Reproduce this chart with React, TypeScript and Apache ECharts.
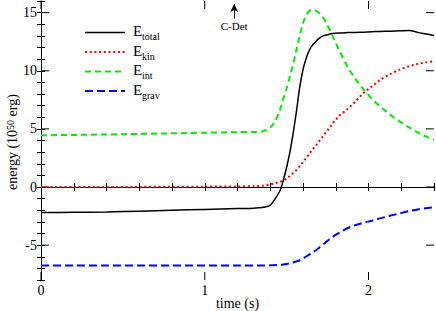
import React, { useEffect, useRef } from "react";
import * as echarts from "echarts";

const times = [0, 0.2, 0.4, 0.6, 0.8, 1.0, 1.2, 1.3, 1.35, 1.4, 1.43, 1.46, 1.48, 1.5, 1.52, 1.54, 1.56, 1.58, 1.6, 1.62, 1.64, 1.66, 1.68, 1.7, 1.72, 1.75, 1.78, 1.82, 1.87, 1.92, 1.97, 2.02, 2.07, 2.13, 2.19, 2.25, 2.3, 2.35, 2.4];

const eTotal = [-2.2, -2.18, -2.15, -2.08, -2.0, -1.93, -1.86, -1.82, -1.77, -1.55, -1.0, -0.3, 0.6, 1.7, 3.0, 4.64, 6.5, 8.6, 10.1, 11.1, 11.8, 12.25, 12.55, 12.8, 12.98, 13.1, 13.2, 13.25, 13.28, 13.3, 13.32, 13.35, 13.38, 13.4, 13.44, 13.47, 13.3, 13.17, 13.04];

const eKin = [0, 0, 0, 0.01, 0.02, 0.03, 0.05, 0.07, 0.1, 0.22, 0.32, 0.45, 0.55, 0.72, 0.95, 1.2, 1.47, 1.8, 2.15, 2.5, 2.9, 3.25, 3.6, 3.97, 4.34, 4.88, 5.43, 6.1, 6.68, 7.35, 8.1, 8.65, 9.2, 9.7, 10.1, 10.4, 10.58, 10.72, 10.82];

const eInt = [4.45, 4.48, 4.52, 4.57, 4.62, 4.67, 4.72, 4.74, 4.78, 5.1, 5.7, 6.65, 7.6, 8.5, 9.5, 10.6, 11.8, 13.0, 14.1, 14.8, 15.15, 15.22, 15.15, 14.95, 14.65, 13.9, 13.0, 11.8, 10.4, 9.3, 8.4, 7.6, 6.93, 6.25, 5.64, 5.1, 4.7, 4.35, 4.06];

const eGrav = [-6.75, -6.75, -6.75, -6.75, -6.75, -6.75, -6.75, -6.75, -6.75, -6.74, -6.72, -6.7, -6.67, -6.62, -6.56, -6.49, -6.4, -6.3, -6.15, -5.98, -5.8, -5.62, -5.44, -5.2, -4.97, -4.63, -4.29, -3.95, -3.55, -3.28, -3.07, -2.9, -2.7, -2.48, -2.27, -2.07, -1.93, -1.83, -1.75];

const legendNames = ["E_total", "E_kin", "E_int", "E_grav"];
const legendMain = ["E", "E", "E", "E"];
const legendSub = ["total", "kin", "int", "grav"];

const xMin = 0;
const xMax = 2.4;
const yMin = -8;
const yMax = 16;
const xMajorTicks = [0, 1, 2];
const yMajorTicks = [-5, 0, 5, 10, 15];

const annotationTime = 1.18;
const annotationLabel = "C-Det";

const FONT = "'Liberation Serif', 'Times New Roman', serif";

export default function App() {
  const ref = useRef<HTMLDivElement>(null);
  useEffect(() => {
    if (!ref.current) return;
    const chart = echarts.init(ref.current, undefined, { renderer: "svg" });

    const gridRect = { left: 41, right: 2, top: 1, bottom: 31 };
    const axisLine = { show: true, lineStyle: { color: "#000", width: 1 } };

    const pair = (a: number[]) => times.map((t, i) => [t, a[i]]);

    const styles = [
      { color: "#000000", width: 1.5, type: "solid" as any },
      { color: "#ff0000", width: 2, type: [2, 2.7] as any },
      { color: "#00ee00", width: 2, type: [6, 4] as any },
      { color: "#0000ff", width: 2, type: [8, 4] as any },
    ];
    const datas = [eTotal, eKin, eInt, eGrav];

    const series: any[] = datas.map((d, i) => ({
      name: legendNames[i],
      type: "line",
      xAxisIndex: 0,
      yAxisIndex: 0,
      data: pair(d),
      showSymbol: false,
      symbol: "none",
      smooth: 0.3,
      lineStyle: styles[i],
      z: 10 - i,
    }));

    series[0].markLine = {
      silent: true,
      symbol: ["none", "arrow"],
      symbolSize: [6, 8],
      lineStyle: { color: "#000", width: 1, type: "solid" },
      label: {
        show: true,
        position: "start",
        formatter: annotationLabel,
        color: "#000",
        fontFamily: FONT,
        fontSize: 11,
        distance: 2,
      },
      data: [[{ coord: [annotationTime, 14.5] }, { coord: [annotationTime, 15.75] }]],
    };

    // major ticks on all four sides, placed through the axes' own scales
    series.push({
      type: "custom",
      xAxisIndex: 0,
      yAxisIndex: 0,
      silent: true,
      z: 1,
      clip: false,
      data: yMajorTicks.map((v) => [xMin, v]),
      renderItem: (params: any, api: any) => {
        const p = api.coord([api.value(0), api.value(1)]);
        const cs = params.coordSys;
        const right = cs.x + cs.width;
        return {
          type: "group",
          children: [
            { type: "line", shape: { x1: cs.x, y1: p[1], x2: cs.x + 8, y2: p[1] }, style: { stroke: "#000", lineWidth: 1 } },
            { type: "line", shape: { x1: right - 8, y1: p[1], x2: right, y2: p[1] }, style: { stroke: "#000", lineWidth: 1 } },
          ],
        };
      },
    });
    series.push({
      type: "custom",
      xAxisIndex: 0,
      yAxisIndex: 0,
      silent: true,
      z: 1,
      clip: false,
      data: xMajorTicks.map((v) => [v, yMin]),
      renderItem: (params: any, api: any) => {
        const p = api.coord([api.value(0), api.value(1)]);
        const cs = params.coordSys;
        const bottom = cs.y + cs.height;
        return {
          type: "group",
          children: [
            { type: "line", shape: { x1: p[0], y1: bottom, x2: p[0], y2: bottom - 8 }, style: { stroke: "#000", lineWidth: 1 } },
            { type: "line", shape: { x1: p[0], y1: cs.y, x2: p[0], y2: cs.y + 8 }, style: { stroke: "#000", lineWidth: 1 } },
          ],
        };
      },
    });

    const legendRowY = [32.5, 52, 71.5, 91];
    const graphic: any[] = [];
    legendNames.forEach((n, i) => {
      const st = styles[i];
      graphic.push({
        type: "line",
        shape: { x1: 85, y1: legendRowY[i], x2: 125, y2: legendRowY[i] },
        style: {
          stroke: st.color,
          lineWidth: st.width,
          lineDash: Array.isArray(st.type) ? st.type : null,
        },
      });
      graphic.push({
        type: "text",
        x: 133,
        y: legendRowY[i] - 1.5,
        style: {
          text: legendMain[i],
          fontFamily: FONT,
          fontSize: 15,
          fill: "#000",
          verticalAlign: "middle",
          align: "left",
        },
      });
      graphic.push({
        type: "text",
        x: 142,
        y: legendRowY[i] + 4,
        style: {
          text: legendSub[i],
          fontFamily: FONT,
          fontSize: 10,
          fill: "#000",
          verticalAlign: "middle",
          align: "left",
        },
      });
    });
    graphic.push({
      type: "text",
      x: 15,
      y: 142,
      rotation: Math.PI / 2,
      style: {
        text: "{n|energy (10}{s|50}{n| erg)}",
        align: "center",
        verticalAlign: "middle",
        rich: {
          n: { fontFamily: FONT, fontSize: 14, lineHeight: 20, verticalAlign: "top", fill: "#000" },
          s: { fontFamily: FONT, fontSize: 10, lineHeight: 10, verticalAlign: "top", fill: "#000" },
        },
      },
    });

    const isInt = (v: number) => Math.abs(v - Math.round(v)) < 1e-6;
    const xAxis = (pos: string, labels: boolean) => ({
      type: "value",
      position: pos,
      min: xMin,
      max: xMax,
      interval: 0.2,
      axisLine,
      axisTick: { show: true, inside: true, length: 4, lineStyle: { color: "#000" } },
      axisLabel: {
        show: labels,
        color: "#000",
        fontFamily: FONT,
        fontSize: 14,
        margin: 3,
        formatter: (v: number) => (isInt(v) && xMajorTicks.includes(Math.round(v)) ? String(Math.round(v)) : ""),
      },
      splitLine: { show: false },
      ...(labels
        ? {
            name: "time (s)",
            nameLocation: "middle",
            nameGap: 16,
            nameMoveOverlap: false,
            nameTextStyle: { color: "#000", fontFamily: FONT, fontSize: 14 },
          }
        : {}),
    });
    const yAxis = (pos: string, labels: boolean) => ({
      type: "value",
      position: pos,
      min: yMin,
      max: yMax,
      interval: 1,
      axisLine,
      axisTick: { show: true, inside: true, length: 4, lineStyle: { color: "#000" } },
      axisLabel: {
        show: labels,
        color: "#000",
        fontFamily: FONT,
        fontSize: 14,
        margin: 4,
        formatter: (v: number) => (yMajorTicks.includes(Math.round(v)) && isInt(v) ? String(Math.round(v)) : ""),
      },
      splitLine: { show: false },
    });

    chart.setOption({
      animation: false,
      backgroundColor: "#fff",
      grid: [{ ...gridRect, containLabel: false, outerBoundsMode: "none" }],
      xAxis: [xAxis("bottom", true), xAxis("top", false)],
      yAxis: [yAxis("left", true), yAxis("right", false)],
      series,
      graphic,
    });
    return () => chart.dispose();
  }, []);
  return <div ref={ref} style={{ width: 436, height: 311, position: "absolute", left: 0, top: 0 }} />;
}
